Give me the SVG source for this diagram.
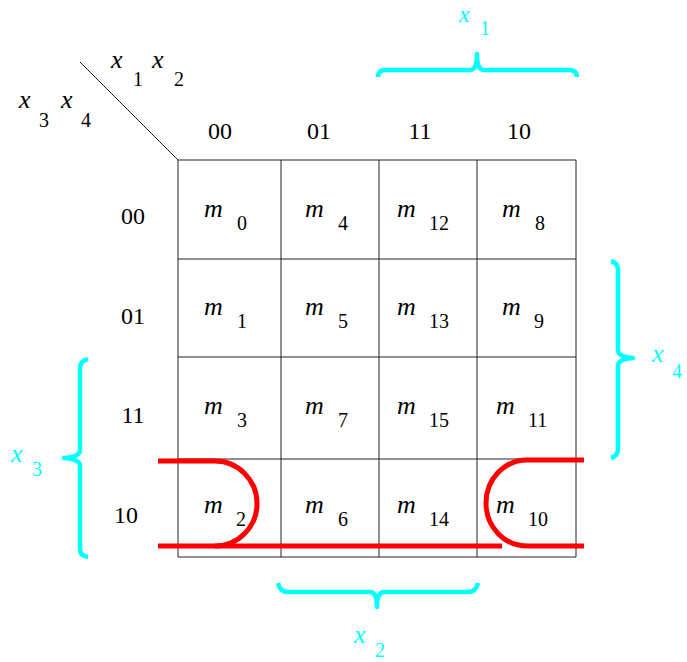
<svg xmlns="http://www.w3.org/2000/svg" width="687" height="662" viewBox="0 0 687 662">
<style>
text{font-family:'Liberation Serif','Times New Roman',serif;fill:#000}
.v{font-style:italic;font-size:26px}
.s{font-size:20px}
.h{font-size:24px;text-anchor:middle}
.c{fill:#00ffff}
.grid line{stroke:#222;stroke-width:1}
.brace{fill:none;stroke:#00ffff;stroke-width:4.5;stroke-linejoin:round}
.loop{fill:none;stroke:#ff0000;stroke-width:5}
</style>
<rect width="687" height="662" fill="#fff"/>
<g id="grid" class="grid">
<line x1="80" y1="62" x2="178" y2="160"/>
<line x1="178" y1="160" x2="576" y2="160"/>
<line x1="178" y1="259" x2="576" y2="259"/>
<line x1="178" y1="357" x2="576" y2="357"/>
<line x1="178" y1="459" x2="576" y2="459"/>
<line x1="178" y1="557" x2="576" y2="557"/>
<line x1="178" y1="160" x2="178" y2="557"/>
<line x1="281" y1="160" x2="281" y2="557"/>
<line x1="379" y1="160" x2="379" y2="557"/>
<line x1="477" y1="160" x2="477" y2="557"/>
<line x1="576" y1="160" x2="576" y2="557"/>
</g>
<g id="axis-labels">
<text class="v" x="111" y="68">x</text><text class="s" x="133" y="86">1</text>
<text class="v" x="152" y="68">x</text><text class="s" x="174" y="86">2</text>
<text class="v" x="19" y="108">x</text><text class="s" x="39" y="127">3</text>
<text class="v" x="61" y="108">x</text><text class="s" x="81" y="127">4</text>
</g>
<g id="col-headers">
<text class="h" x="220" y="139">00</text>
<text class="h" x="319" y="139">01</text>
<text class="h" x="420" y="139">11</text>
<text class="h" x="519" y="139">10</text>
</g>
<g id="row-headers">
<text class="h" x="133" y="224">00</text>
<text class="h" x="133" y="324">01</text>
<text class="h" x="133" y="423">11</text>
<text class="h" x="126" y="523">10</text>
</g>
<g id="cells">
<g id="m0"><text class="v" x="204" y="217">m</text><text class="s" x="237" y="230">0</text></g>
<g id="m4"><text class="v" x="305" y="217">m</text><text class="s" x="338" y="230">4</text></g>
<g id="m12"><text class="v" x="397" y="217">m</text><text class="s" x="429" y="230">12</text></g>
<g id="m8"><text class="v" x="502" y="217">m</text><text class="s" x="535" y="230">8</text></g>
<g id="m1"><text class="v" x="204" y="315">m</text><text class="s" x="237" y="328">1</text></g>
<g id="m5"><text class="v" x="305" y="315">m</text><text class="s" x="338" y="328">5</text></g>
<g id="m13"><text class="v" x="397" y="315">m</text><text class="s" x="429" y="328">13</text></g>
<g id="m9"><text class="v" x="502" y="315">m</text><text class="s" x="534" y="328">9</text></g>
<g id="m3"><text class="v" x="204" y="414">m</text><text class="s" x="237" y="427">3</text></g>
<g id="m7"><text class="v" x="305" y="414">m</text><text class="s" x="338" y="427">7</text></g>
<g id="m15"><text class="v" x="397" y="414">m</text><text class="s" x="429" y="427">15</text></g>
<g id="m11"><text class="v" x="496" y="414">m</text><text class="s" x="528" y="427">11</text></g>
<g id="m2"><text class="v" x="204" y="513">m</text><text class="s" x="236" y="526">2</text></g>
<g id="m6"><text class="v" x="305" y="513">m</text><text class="s" x="338" y="526">6</text></g>
<g id="m14"><text class="v" x="397" y="513">m</text><text class="s" x="429" y="526">14</text></g>
<g id="m10"><text class="v" x="496" y="513">m</text><text class="s" x="528" y="526">10</text></g>
</g>
<g id="braces">
<path class="brace" d="M378,77 Q378,70 386,70 L470,70 Q477,70 477,54 Q477,70 484,70 L569,70 Q577,70 577,77"/>
<text class="v c" x="459" y="22" style="font-size:24px">x</text><text class="s c" x="480" y="35">1</text>
<path class="brace" d="M611,261 Q618,263 618,270 L618,350 Q618,357 633,358 Q618,359 618,366 L618,449 Q618,456 611,458"/>
<text class="v c" x="652" y="362">x</text><text class="s c" x="672" y="378">4</text>
<path class="brace" d="M88,359 Q80,361 80,368 L80,450 Q80,457 64,458 Q80,459 80,466 L80,549 Q80,556 88,557"/>
<text class="v c" x="11" y="462">x</text><text class="s c" x="32" y="476">3</text>
<path class="brace" d="M278,583 Q280,592 288,592 L370,592 Q377,592 377,607 Q377,592 384,592 L468,592 Q476,592 478,583"/>
<text class="v c" x="354" y="643">x</text><text class="s c" x="375" y="657">2</text>
</g>
<g id="groupings">
<path class="loop" d="M158,461 L215,461 A42,42.5 0 0 1 215,546"/>
<path class="loop" d="M158,546 L502,546"/>
<path class="loop" d="M584,460 L527,460 A41,43 0 0 0 527,546 L584,546"/>
</g>
</svg>
